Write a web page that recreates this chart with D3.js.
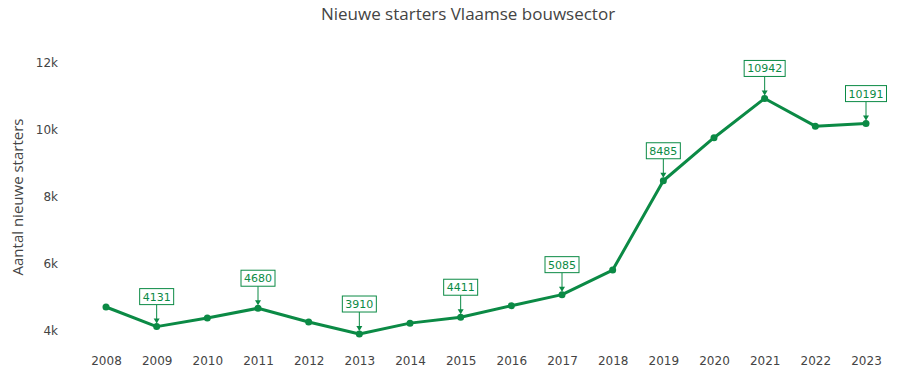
<!DOCTYPE html>
<html>
<head>
<meta charset="utf-8">
<script src="https://cdn.jsdelivr.net/npm/d3@7"></script>
<style>
  body { margin: 0; background: #fff; }
  svg { display: block; }
</style>
</head>
<body>
<div id="chart"></div>
<script>
// data
var years = [2008, 2009, 2010, 2011, 2012, 2013, 2014, 2015, 2016, 2017, 2018, 2019, 2020, 2021, 2022, 2023];
var starters = [4716, 4131, 4388, 4680, 4270, 3910, 4235, 4411, 4755, 5085, 5820, 8485, 9770, 10942, 10115, 10191];
var labelled = [2009, 2011, 2013, 2015, 2017, 2019, 2021, 2023];
var yTicks = [4000, 6000, 8000, 10000, 12000];

var W = 900, H = 380;
var green = "#0b8a45";
var grey = "#444";

var svg = d3.select("#chart").append("svg")
    .attr("width", W)
    .attr("height", H);

var x = d3.scalePoint()
    .domain(years)
    .range([106, 866]);

var y = d3.scaleLinear()
    .domain([4000, 12000])
    .range([331, 63]);

// title
svg.append("text")
    .attr("x", 468)
    .attr("y", 20)
    .attr("text-anchor", "middle")
    .style("font-family", "'Open Sans', 'Liberation Sans', sans-serif")
    .style("font-size", "17px")
    .style("fill", grey)
    .text("Nieuwe starters Vlaamse bouwsector");

// y axis
var yAxis = svg.append("g")
    .attr("transform", "translate(66,0)")
    .call(d3.axisLeft(y).tickValues(yTicks).tickSize(0).tickPadding(8)
        .tickFormat(function (d) { return (d / 1000) + "k"; }));
yAxis.select(".domain").remove();
yAxis.selectAll("text")
    .style("font-family", "'DejaVu Sans', Verdana, sans-serif")
    .style("font-size", "12px")
    .style("fill", grey);

// x axis
var xAxis = svg.append("g")
    .attr("transform", "translate(0,352)")
    .call(d3.axisBottom(x).tickSize(0).tickPadding(4));
xAxis.select(".domain").remove();
xAxis.selectAll("text")
    .style("font-family", "'DejaVu Sans', Verdana, sans-serif")
    .style("font-size", "12px")
    .style("fill", grey);

// y title
svg.append("text")
    .attr("transform", "translate(23,197) rotate(-90)")
    .attr("text-anchor", "middle")
    .style("font-family", "'Open Sans', 'Liberation Sans', sans-serif")
    .style("font-size", "15px")
    .style("fill", grey)
    .text("Aantal nieuwe starters");

var data = years.map(function (d, i) { return { year: d, value: starters[i] }; });

var line = d3.line()
    .x(function (d) { return x(d.year); })
    .y(function (d) { return y(d.value); });

svg.append("path")
    .datum(data)
    .attr("d", line)
    .attr("fill", "none")
    .attr("stroke", green)
    .attr("stroke-width", 3)
    .attr("stroke-linejoin", "round");

svg.selectAll(".dot")
    .data(data)
    .enter().append("circle")
    .attr("class", "dot")
    .attr("cx", function (d) { return x(d.year); })
    .attr("cy", function (d) { return y(d.value); })
    .attr("r", 3.5)
    .attr("fill", green);

// annotations
var ann = svg.selectAll(".ann")
    .data(data.filter(function (d) { return labelled.indexOf(d.year) >= 0; }))
    .enter().append("g")
    .attr("class", "ann")
    .attr("transform", function (d) { return "translate(" + x(d.year) + "," + y(d.value) + ")"; });

ann.append("line")
    .attr("x1", 0).attr("y1", -22)
    .attr("x2", 0).attr("y2", -4)
    .attr("stroke", green)
    .attr("stroke-width", 1);

ann.append("path")
    .attr("d", "M-3,-8 L0,-3 L3,-8 Z")
    .attr("fill", green);

ann.each(function (d) {
    var g = d3.select(this);
    var t = g.append("text")
        .attr("x", 0)
        .attr("y", -26)
        .attr("text-anchor", "middle")
        .style("font-family", "'DejaVu Sans', Verdana, sans-serif")
        .style("font-size", "11px")
        .style("fill", green)
        .text(d.value);
    var w = t.node().getComputedTextLength();
    g.insert("rect", "text")
        .attr("x", -w / 2 - 3)
        .attr("y", -38)
        .attr("width", w + 6)
        .attr("height", 16)
        .attr("fill", "#fff")
        .attr("stroke", green)
        .attr("stroke-width", 1);
});
</script>
</body>
</html>
